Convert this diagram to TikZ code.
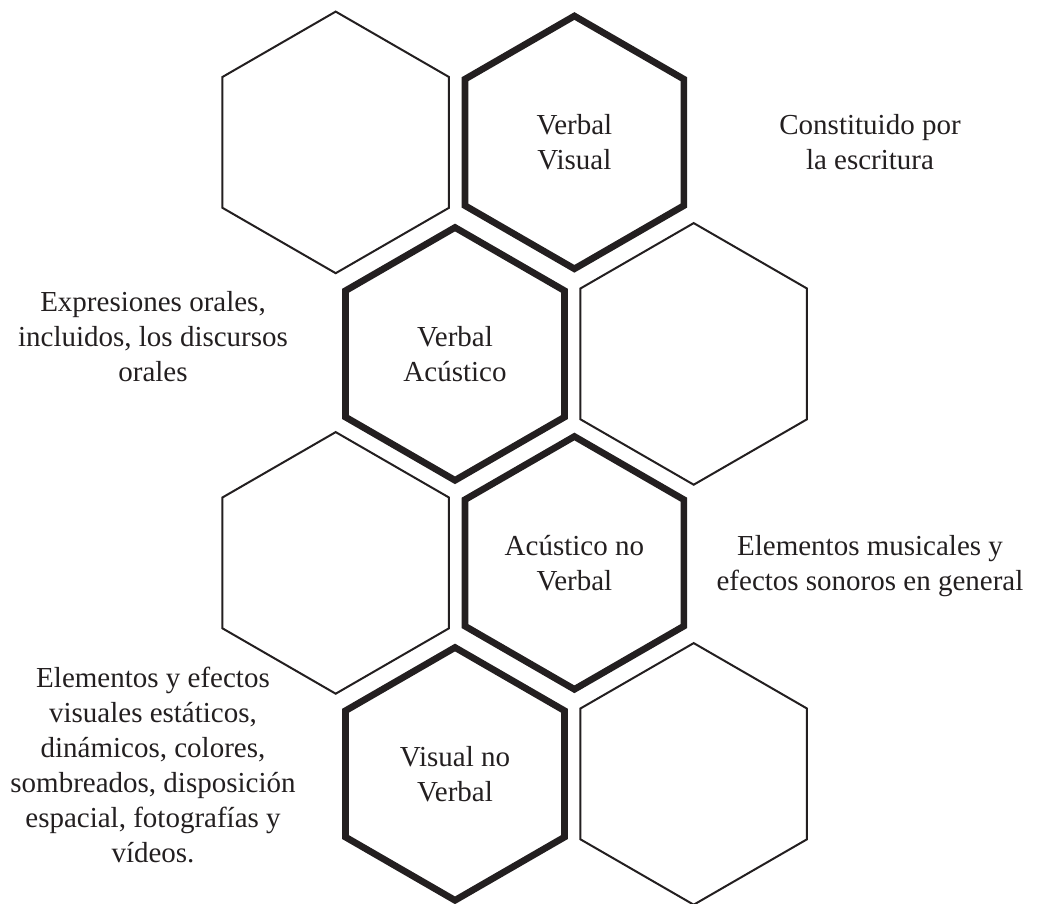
\documentclass[tikz,border=0pt]{standalone}
\usepackage{fontspec}
\setmainfont{Liberation Serif}
\usepackage{tikz}
\usetikzlibrary{positioning}
\definecolor{ink}{HTML}{231F20}

\begin{document}
\begin{tikzpicture}[x=1pt, y=-1pt,
  thinhex/.style={draw=ink, line width=2pt, line join=miter},
  thickhex/.style={draw=ink, line width=6.7pt, line join=miter},
  hextext/.style={align=center, text=ink, inner sep=0pt, font=\fontsize{29}{35}\selectfont}]
\useasboundingbox (0,0) rectangle (1041,904);
% hexagon centres, row by row
\coordinate (H1) at (335.7, 142.4);
\coordinate (H2) at (574.4, 142.4);
\coordinate (H3) at (455.0, 353.9);
\coordinate (H4) at (693.7, 353.9);
\coordinate (H5) at (335.7, 562.9);
\coordinate (H6) at (574.4, 562.9);
\coordinate (H7) at (455.0, 773.9);
\coordinate (H8) at (693.7, 773.9);
\foreach \c in {H1, H4, H5, H8}
  \draw[thinhex] (\c) +(90:130.8) -- +(30:130.8) -- +(-30:130.8) -- +(-90:130.8) -- +(-150:130.8) -- +(150:130.8) -- cycle;
\foreach \c in {H2, H3, H6, H7}
  \draw[thickhex] (\c) +(90:126.4) -- +(30:126.4) -- +(-30:126.4) -- +(-90:126.4) -- +(-150:126.4) -- +(150:126.4) -- cycle;
% texts inside the thick hexagons
\node[hextext] (verbvis) at (H2) {Verbal\\Visual};
\node[hextext] (verbac) at (H3) {Verbal\\Acústico};
\node[hextext] (acnoverb) at (H6) {Acústico no\\Verbal};
\node[hextext] (visnoverb) at (H7) {Visual no\\Verbal};
% descriptions
\node[hextext] (escritura) at (870, 142.4) {Constituido por\\la escritura};
\node[hextext] (orales) at (153, 336.7) {Expresiones orales,\\incluidos, los discursos\\orales};
\node[hextext] (sonoros) at (870, 566) {Elementos musicales y\\efectos sonoros en general};
\node[hextext] (visuales) at (153, 765) {Elementos y efectos\\visuales estáticos,\\dinámicos, colores,\\sombreados, disposición\\espacial, fotografías y\\vídeos.};
\end{tikzpicture}
\end{document}
